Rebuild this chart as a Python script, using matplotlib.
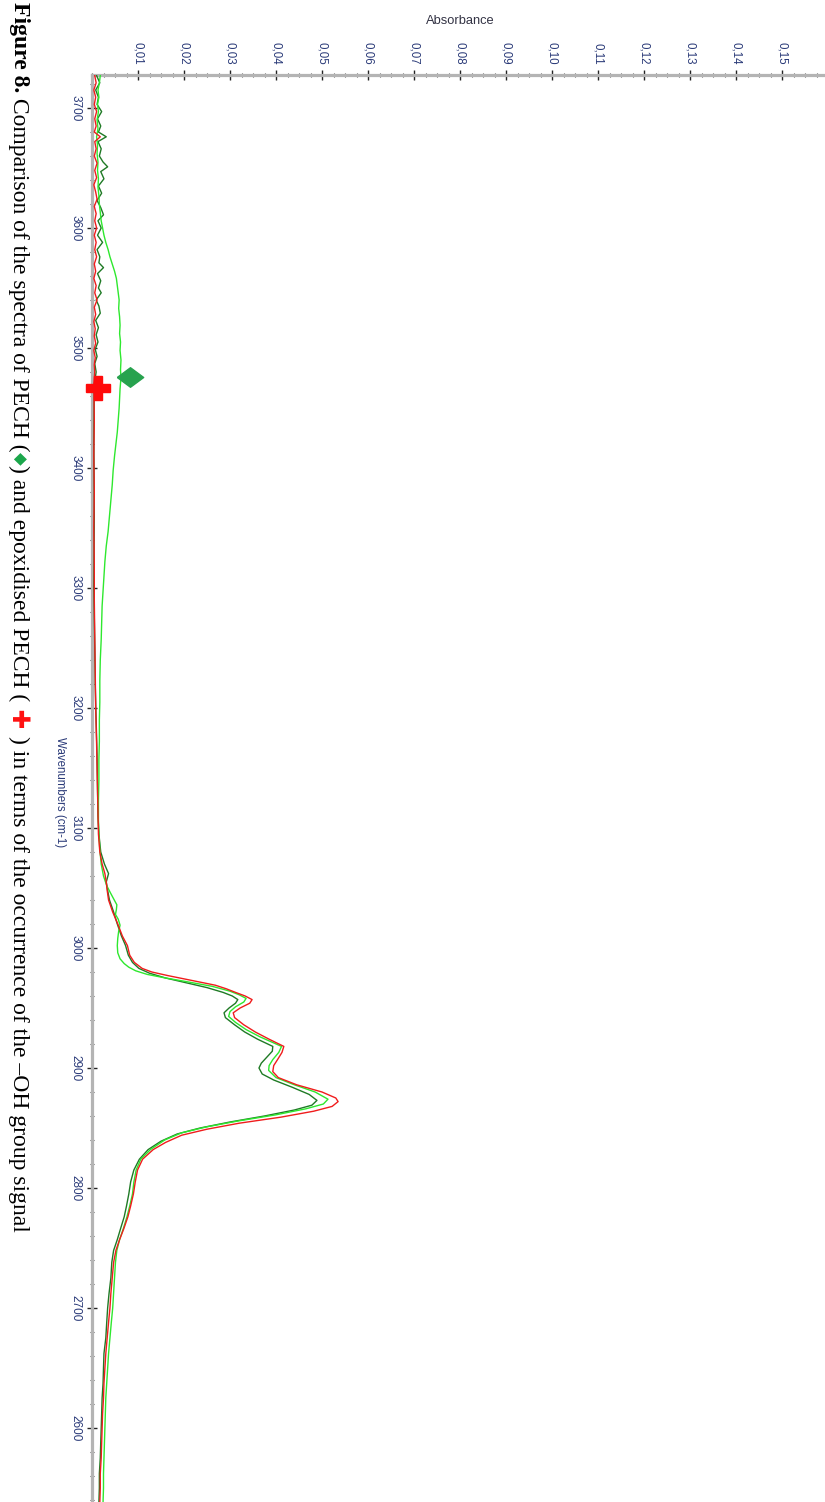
import matplotlib
matplotlib.use("Agg")
import matplotlib.pyplot as plt
from matplotlib.ticker import MultipleLocator, FixedLocator, FuncFormatter

# PECH spectrum (bright green trace)
pechWn = [3727, 3721, 3715, 3709, 3703, 3697, 3690, 3683, 3676, 3669, 3662, 3655, 3648, 3641, 3634,
          3627, 3620, 3613, 3606, 3600, 3594, 3588, 3582, 3576, 3570, 3564, 3558, 3552, 3546, 3540,
          3533, 3526, 3519, 3512, 3505, 3498, 3490, 3482, 3475, 3466, 3458, 3450, 3440, 3430, 3420,
          3410, 3398, 3386, 3373, 3360, 3347, 3335, 3322, 3310, 3298, 3285, 3270, 3257, 3240, 3223,
          3205, 3190, 3172, 3157, 3140, 3123, 3107, 3095, 3082, 3070, 3060, 3052, 3046, 3041, 3036,
          3032, 3028, 3024, 3019, 3014, 3008, 3002, 2996, 2991, 2987, 2984, 2981, 2978, 2975, 2972,
          2968, 2964, 2961, 2958, 2955, 2951, 2947, 2943, 2938, 2932, 2926, 2918, 2913, 2907, 2902,
          2898, 2892, 2886, 2880, 2874, 2870, 2866, 2861, 2856, 2851, 2846, 2840, 2832, 2824, 2815,
          2805, 2795, 2785, 2776, 2766, 2757, 2748, 2738, 2725, 2712, 2700, 2688, 2675, 2662, 2650,
          2637, 2625, 2612, 2600, 2588, 2575, 2562, 2550, 2538]
pechAbs = [0.0018, 0.0016, 0.0013, 0.0015, 0.0012, 0.0014, 0.0011, 0.0013, 0.0010, 0.0012, 0.0011, 0.0013, 0.0012, 0.0014, 0.0013,
           0.0015, 0.0016, 0.0018, 0.0020, 0.0023, 0.0026, 0.0030, 0.0035, 0.0039, 0.0044, 0.0049, 0.0053, 0.0055, 0.0057, 0.0059,
           0.0058, 0.0060, 0.0061, 0.0060, 0.0062, 0.0061, 0.0063, 0.0062, 0.0063, 0.0061, 0.0060, 0.0059, 0.0057, 0.0055, 0.0052,
           0.0049, 0.0046, 0.0044, 0.0041, 0.0038, 0.0035, 0.0031, 0.0028, 0.0026, 0.0024, 0.0022, 0.0021, 0.0020, 0.0018, 0.0017,
           0.0017, 0.0016, 0.0016, 0.0015, 0.0015, 0.0014, 0.0014, 0.0015, 0.0017, 0.0020, 0.0025, 0.0032, 0.0040, 0.0047, 0.0054,
           0.0053, 0.0051, 0.0057, 0.0061, 0.0058, 0.0056, 0.0055, 0.0056, 0.0061, 0.0070, 0.0080, 0.0095, 0.0120, 0.0160, 0.0205,
           0.0262, 0.0300, 0.0320, 0.0335, 0.0330, 0.0312, 0.0300, 0.0297, 0.0312, 0.0335, 0.0365, 0.0412, 0.0406, 0.0393, 0.0385,
           0.0384, 0.0400, 0.0440, 0.0485, 0.0513, 0.0503, 0.0465, 0.0400, 0.0320, 0.0250, 0.0195, 0.0158, 0.0127, 0.0106, 0.0096,
           0.0091, 0.0088, 0.0082, 0.0076, 0.0068, 0.0060, 0.0054, 0.0051, 0.0049, 0.0047, 0.0045, 0.0042, 0.0039, 0.0036, 0.0034,
           0.0032, 0.0030, 0.0029, 0.0028, 0.0027, 0.0026, 0.0025, 0.0025, 0.0024]

# second PECH run (dark green trace)
pech2Wn = [3727, 3721, 3715, 3709, 3703, 3697, 3691, 3685, 3680, 3676, 3672, 3666, 3660, 3655, 3651,
           3647, 3641, 3635, 3629, 3623, 3617, 3611, 3606, 3600, 3594, 3588, 3582, 3576, 3571, 3567,
           3562, 3556, 3550, 3546, 3540, 3535, 3529, 3523, 3517, 3511, 3505, 3499, 3493, 3487, 3480,
           3470, 3420, 3360, 3300, 3250, 3220, 3190, 3160, 3132, 3110, 3095, 3080, 3070, 3062, 3055,
           3048, 3040, 3030, 3020, 3010, 3002, 2994, 2988, 2983, 2979, 2975, 2971, 2967, 2963, 2960,
           2957, 2954, 2950, 2946, 2942, 2936, 2930, 2924, 2918, 2914, 2909, 2904, 2900, 2895, 2890,
           2884, 2878, 2873, 2869, 2865, 2860, 2855, 2850, 2845, 2839, 2832, 2824, 2815, 2805, 2795,
           2785, 2776, 2766, 2757, 2748, 2738, 2725, 2712, 2700, 2688, 2675, 2662, 2650, 2637, 2625,
           2612, 2600, 2588, 2575, 2562, 2550, 2538]
pech2Abs = [0.0010, 0.0017, 0.0008, 0.0014, 0.0011, 0.0021, 0.0012, 0.0019, 0.0014, 0.0031, 0.0013, 0.0020, 0.0016, 0.0024, 0.0034,
            0.0019, 0.0026, 0.0014, 0.0021, 0.0011, 0.0019, 0.0025, 0.0013, 0.0020, 0.0012, 0.0023, 0.0011, 0.0017, 0.0015, 0.0025,
            0.0012, 0.0019, 0.0014, 0.0020, 0.0009, 0.0015, 0.0018, 0.0008, 0.0014, 0.0009, 0.0013, 0.0007, 0.0011, 0.0006, 0.0009,
            0.0005, 0.0004, 0.0005, 0.0004, 0.0006, 0.0007, 0.0009, 0.0011, 0.0012, 0.0013, 0.0015, 0.0019, 0.0027, 0.0036, 0.0031,
            0.0034, 0.0038, 0.0047, 0.0055, 0.0064, 0.0073, 0.0079, 0.0088, 0.0102, 0.0125, 0.0160, 0.0205, 0.0250, 0.0285, 0.0305,
            0.0317, 0.0312, 0.0298, 0.0287, 0.0290, 0.0310, 0.0332, 0.0360, 0.0393, 0.0392, 0.0380, 0.0368, 0.0363, 0.0370, 0.0395,
            0.0435, 0.0472, 0.0489, 0.0478, 0.0440, 0.0375, 0.0300, 0.0235, 0.0185, 0.0150, 0.0122, 0.0103, 0.0091, 0.0084, 0.0080,
            0.0075, 0.0070, 0.0062, 0.0055, 0.0047, 0.0043, 0.0041, 0.0037, 0.0034, 0.0032, 0.0030, 0.0026, 0.0025, 0.0024, 0.0022,
            0.0021, 0.0020, 0.0019, 0.0018, 0.0016, 0.0016, 0.0015]

# epoxidised PECH spectrum (red trace)
epoxWn = [3727, 3721, 3715, 3709, 3703, 3697, 3691, 3685, 3680, 3676, 3672, 3666, 3660, 3654, 3648,
          3642, 3636, 3630, 3624, 3618, 3612, 3606, 3600, 3594, 3588, 3582, 3576, 3570, 3564, 3558,
          3552, 3546, 3540, 3534, 3528, 3522, 3516, 3510, 3504, 3498, 3492, 3486, 3480, 3470, 3440,
          3410, 3380, 3350, 3320, 3290, 3260, 3230, 3200, 3170, 3132, 3110, 3095, 3080, 3070, 3062,
          3055, 3048, 3040, 3030, 3020, 3010, 3002, 2994, 2988, 2983, 2980, 2977, 2973, 2969, 2966,
          2963, 2960, 2957, 2954, 2950, 2946, 2942, 2936, 2930, 2924, 2918, 2913, 2908, 2902, 2897,
          2892, 2886, 2880, 2875, 2872, 2868, 2864, 2859, 2854, 2849, 2844, 2838, 2832, 2824, 2815,
          2805, 2795, 2785, 2776, 2766, 2757, 2748, 2738, 2725, 2712, 2700, 2688, 2675, 2662, 2650,
          2637, 2625, 2612, 2600, 2588, 2575, 2562, 2550, 2538]
epoxAbs = [0.0006, 0.0009, 0.0004, 0.0008, 0.0005, 0.0010, 0.0006, 0.0009, 0.0005, 0.0018, 0.0006, 0.0009, 0.0005, 0.0011, 0.0006,
           0.0010, 0.0004, 0.0008, 0.0011, 0.0005, 0.0009, 0.0006, 0.0010, 0.0005, 0.0009, 0.0006, 0.0010, 0.0005, 0.0008, 0.0004,
           0.0009, 0.0006, 0.0011, 0.0005, 0.0008, 0.0004, 0.0007, 0.0005, 0.0008, 0.0004, 0.0007, 0.0005, 0.0006, 0.0004, 0.0005,
           0.0004, 0.0005, 0.0004, 0.0005, 0.0005, 0.0006, 0.0007, 0.0008, 0.0010, 0.0012, 0.0013, 0.0014, 0.0017, 0.0022, 0.0028,
           0.0031, 0.0033, 0.0036, 0.0045, 0.0056, 0.0066, 0.0077, 0.0082, 0.0092, 0.0109, 0.0130, 0.0165, 0.0217, 0.0268, 0.0292,
           0.0312, 0.0333, 0.0348, 0.0343, 0.0322, 0.0307, 0.0310, 0.0330, 0.0355, 0.0385, 0.0417, 0.0413, 0.0405, 0.0395, 0.0393,
           0.0405, 0.0445, 0.0500, 0.0530, 0.0535, 0.0522, 0.0482, 0.0410, 0.0320, 0.0250, 0.0195, 0.0160, 0.0133, 0.0110, 0.0099,
           0.0094, 0.0090, 0.0084, 0.0078, 0.0069, 0.0060, 0.0052, 0.0047, 0.0044, 0.0041, 0.0039, 0.0036, 0.0033, 0.0030, 0.0028,
           0.0026, 0.0025, 0.0023, 0.0022, 0.0021, 0.0020, 0.0018, 0.0018, 0.0017]

# spectrum labels placed by the software next to the traces
diamondPos = (0.0083, 3476)
crossPos = (0.0013, 3467)

absTicks = [0.01, 0.02, 0.03, 0.04, 0.05, 0.06, 0.07, 0.08, 0.09, 0.10, 0.11, 0.12, 0.13, 0.14, 0.15]
wnTicks = [2600, 2700, 2800, 2900, 3000, 3100, 3200, 3300, 3400, 3500, 3600, 3700]

labelColor = "#2a3a78"
W, H = 825, 1502

fig = plt.figure(figsize=(W / 100, H / 100), dpi=100)
fig.patch.set_facecolor("white")

# the spectrum is shown turned by 90 degrees: absorbance across, wavenumber down
ax = fig.add_axes([92 / W, 0, 1 - 92 / W, 1 - 75 / H])
ax.plot(pech2Abs, pech2Wn, color="#1f7a25", lw=1.0, zorder=3)
ax.plot(pechAbs, pechWn, color="#2ee82e", lw=1.0, zorder=4)
ax.plot(epoxAbs, epoxWn, color="#f01c1c", lw=1.0, zorder=5)

# diamond marker (wider than tall) and heavy cross
diamond = [(-1.35, 0), (0, 1), (1.35, 0), (0, -1), (-1.35, 0)]
ax.plot(*diamondPos, marker=diamond, ms=19, color="#27a24e", mec="#27a24e", zorder=6, clip_on=False)
ax.plot(*crossPos, marker="P", ms=17, color="#ff0a0a", mec="#ff0a0a", zorder=6, clip_on=False)

ax.set_xlim(0, (W - 92) / 4600)
ax.set_ylim(3700 - (H - 108) / 1.2, 3700 + 33 / 1.2)

for side in ["right", "bottom"]:
    ax.spines[side].set_visible(False)
for side in ["top", "left"]:
    ax.spines[side].set_color("#b4b4b4")
    ax.spines[side].set_linewidth(2.3)
    ax.spines[side].set_zorder(2)

ax.xaxis.tick_top()
ax.xaxis.set_major_locator(FixedLocator(absTicks))
ax.xaxis.set_minor_locator(MultipleLocator(0.0025))
ax.xaxis.set_major_formatter(FuncFormatter(lambda v, p: ("%.2f" % v).replace(".", ",")))
ax.yaxis.set_major_locator(FixedLocator(wnTicks))
ax.yaxis.set_minor_locator(MultipleLocator(20))
ax.yaxis.set_major_formatter(FuncFormatter(lambda v, p: "%d" % v))

ax.tick_params(axis="both", which="major", direction="inout", length=7, width=1.0, color="#222222",
               labelsize=8.3, labelcolor=labelColor, pad=4)
ax.tick_params(axis="both", which="minor", direction="inout", length=3, width=0.8, color="#444444")
ax.tick_params(axis="x", which="both", top=True, bottom=False, labelrotation=-90)
ax.tick_params(axis="y", which="both", labelrotation=-90, labelsize=8.5)
for lab in ax.get_yticklabels():
    lab.set_verticalalignment("center")
    lab.set_family("Liberation Sans")
for lab in ax.get_xticklabels():
    lab.set_family("Liberation Sans")

fig.text(460 / W, 1 - 21 / H, "Absorbance", ha="center", va="center", fontsize=9.3,
         color="#333344", family="Liberation Sans")
fig.text(60 / W, 1 - 792 / H, "Wavenumbers (cm-1)", ha="center", va="center", rotation=-90,
         fontsize=8.3, color=labelColor, family="Liberation Sans")

# caption runs down the left edge, built piece by piece
captionParts = [
    ("Figure 8.", "black", "bold", "Liberation Serif", 17),
    (" Comparison of the spectra of PECH (", "black", "normal", "Liberation Serif", 17),
    ("\u25c6", "#1aa64a", "normal", "DejaVu Sans", 12),
    (") and epoxidised PECH (", "black", "normal", "Liberation Serif", 17),
    (" \u271a ", "#ff1010", "normal", "DejaVu Sans", 17),
    (") in terms of the occurrence of the \u2013OH group signal", "black", "normal", "Liberation Serif", 17),
]
renderer = fig.canvas.get_renderer()
yPos = 1 - 2 / H
for txt, col, wt, fam, fs in captionParts:
    t = fig.text(19 / W, yPos, txt, rotation=-90, ha="center", va="top", color=col,
                 fontweight=wt, family=fam, fontsize=fs)
    bb = t.get_window_extent(renderer)
    yPos = bb.y0 / fig.bbox.height

fig.savefig("out.png", dpi=100, facecolor="white")
